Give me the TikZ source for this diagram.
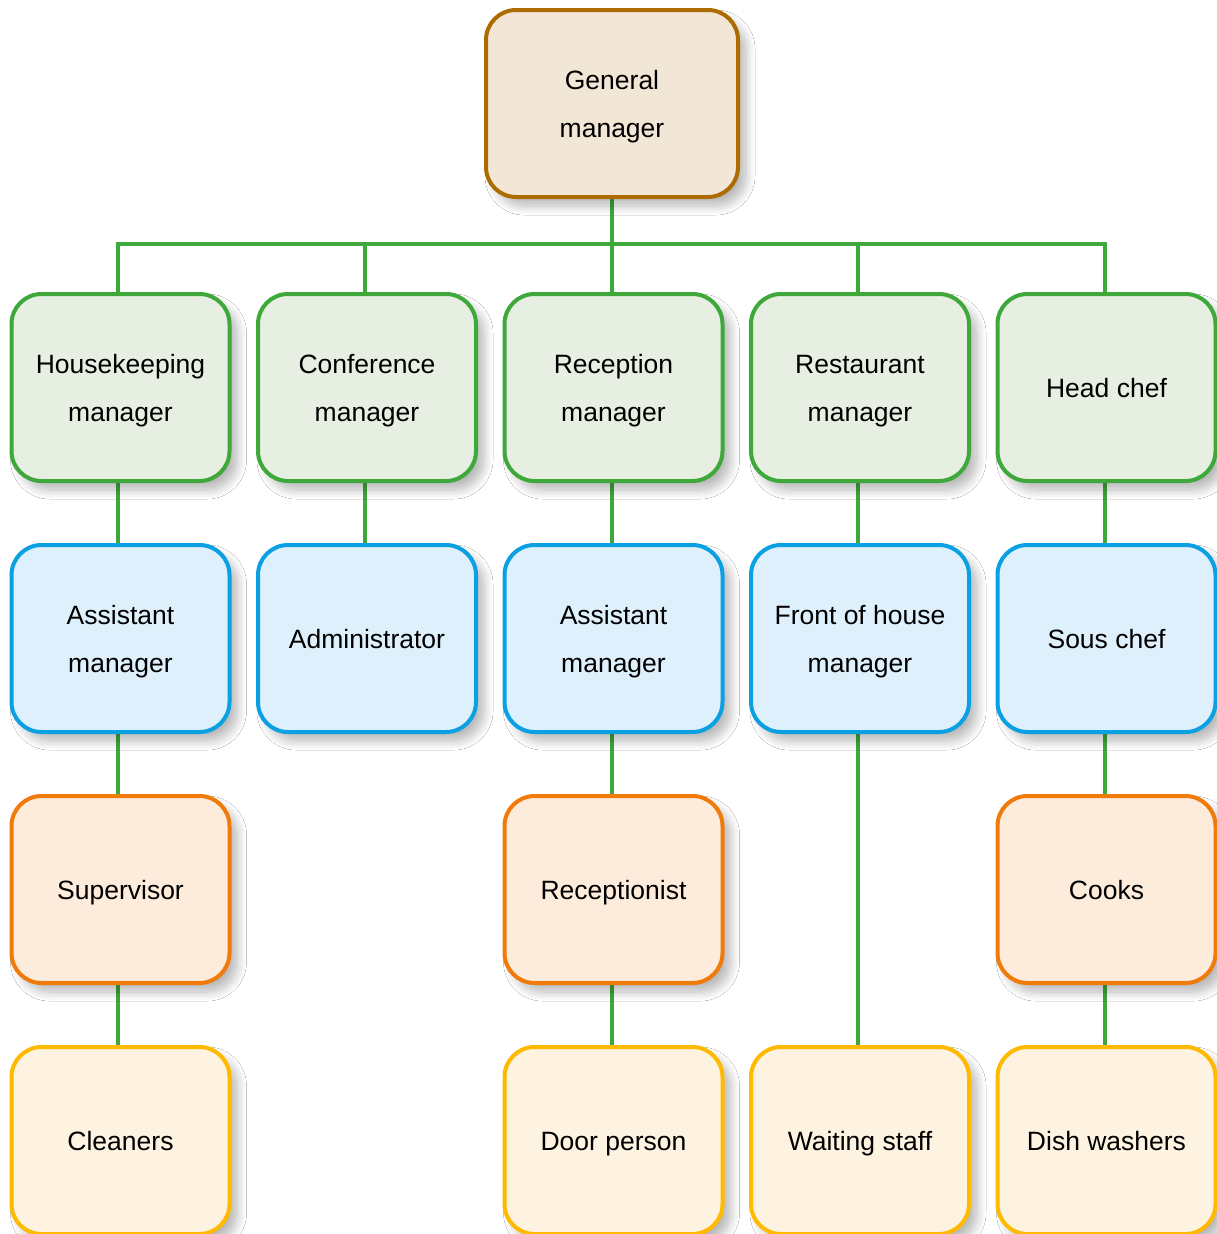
\documentclass[tikz,border=0pt]{standalone}
\usepackage{fontspec}
\setmainfont{Liberation Sans}
\usetikzlibrary{shadows.blur,backgrounds}
\definecolor{gmfill}{HTML}{F2E6D7}
\definecolor{gmdraw}{HTML}{AD6B00}
\definecolor{grfill}{HTML}{E6EFE1}
\definecolor{grdraw}{HTML}{3FA83B}
\definecolor{blfill}{HTML}{DEF0FC}
\definecolor{bldraw}{HTML}{0AA0E2}
\definecolor{orfill}{HTML}{FDECDB}
\definecolor{ordraw}{HTML}{F07A0A}
\definecolor{yefill}{HTML}{FEF3E1}
\definecolor{yedraw}{HTML}{FFBA00}
\newcommand{\boxline}[1]{\strut#1}
\tikzset{
  x=1pt,y=1pt,
  box/.style={rounded corners=30pt, line width=4pt, minimum width=218pt, minimum height=187pt,
    align=center, font=\fontsize{26.5}{48}\selectfont, inner sep=0pt,
    blur shadow={shadow xshift=8pt, shadow yshift=-9pt, shadow blur steps=10, shadow opacity=28, shadow blur radius=9pt}},
  gmbox/.style={box, fill=gmfill, draw=gmdraw, minimum width=252pt},
  grbox/.style={box, fill=grfill, draw=grdraw},
  blbox/.style={box, fill=blfill, draw=bldraw},
  orbox/.style={box, fill=orfill, draw=ordraw},
  yebox/.style={box, fill=yefill, draw=yedraw},
  conn/.style={draw=grdraw, line width=4pt}
}
\begin{document}
\begin{tikzpicture}
\useasboundingbox (0,0) rectangle (1217,-1234);
\clip (0,0) rectangle (1217,-1234);
% top
\node[gmbox] (gm) at (612,-103.5) {\boxline{General}\\\boxline{manager}};
% row 1
\node[grbox] (hk) at (120.5,-387.5) {\boxline{Housekeeping}\\\boxline{manager}};
\node[grbox] (cf) at (367,-387.5) {\boxline{Conference}\\\boxline{manager}};
\node[grbox] (rc) at (613.5,-387.5) {\boxline{Reception}\\\boxline{manager}};
\node[grbox] (rs) at (860,-387.5) {\boxline{Restaurant}\\\boxline{manager}};
\node[grbox] (hc) at (1106.5,-387.5) {\boxline{Head chef}};
% row 2
\node[blbox] (am1) at (120.5,-638.5) {\boxline{Assistant}\\\boxline{manager}};
\node[blbox] (adm) at (367,-638.5) {\boxline{Administrator}};
\node[blbox] (am2) at (613.5,-638.5) {\boxline{Assistant}\\\boxline{manager}};
\node[blbox] (foh) at (860,-638.5) {\boxline{Front of house}\\\boxline{manager}};
\node[blbox] (sc) at (1106.5,-638.5) {\boxline{Sous chef}};
% row 3
\node[orbox] (sup) at (120.5,-889.5) {\boxline{Supervisor}};
\node[orbox] (rcp) at (613.5,-889.5) {\boxline{Receptionist}};
\node[orbox] (ck) at (1106.5,-889.5) {\boxline{Cooks}};
% row 4
\node[yebox] (cl) at (120.5,-1140.5) {\boxline{Cleaners}};
\node[yebox] (dp) at (613.5,-1140.5) {\boxline{Door person}};
\node[yebox] (ws) at (860,-1140.5) {\boxline{Waiting staff}};
\node[yebox] (dw) at (1106.5,-1140.5) {\boxline{Dish washers}};
\coordinate (bar) at (612,-244);
\begin{scope}[on background layer]
\fill[white] (0,0) rectangle (1217,-1234);
\draw[conn] (gm.south) -- (gm.south |- bar);
\foreach \n/\dx in {hk/-2.5,cf/-2,rs/-2,hc/-1.5}{
  \draw[conn] ([xshift=\dx pt]\n.north) |- (bar);
}
\draw[conn] ([xshift=-1.5pt]rc.north) -- ([xshift=-1.5pt]rc.north |- bar);
\draw[conn] ([xshift=-2.5pt]hk.south) -- ([xshift=-2.5pt]am1.north);
\draw[conn] ([xshift=-2.5pt]am1.south) -- ([xshift=-2.5pt]sup.north);
\draw[conn] ([xshift=-2.5pt]sup.south) -- ([xshift=-2.5pt]cl.north);
\draw[conn] ([xshift=-2pt]cf.south) -- ([xshift=-2pt]adm.north);
\draw[conn] ([xshift=-1.5pt]rc.south) -- ([xshift=-1.5pt]am2.north);
\draw[conn] ([xshift=-1.5pt]am2.south) -- ([xshift=-1.5pt]rcp.north);
\draw[conn] ([xshift=-1.5pt]rcp.south) -- ([xshift=-1.5pt]dp.north);
\draw[conn] ([xshift=-2pt]rs.south) -- ([xshift=-2pt]foh.north);
\draw[conn] ([xshift=-2pt]foh.south) -- ([xshift=-2pt]ws.north);
\draw[conn] ([xshift=-1.5pt]hc.south) -- ([xshift=-1.5pt]sc.north);
\draw[conn] ([xshift=-1.5pt]sc.south) -- ([xshift=-1.5pt]ck.north);
\draw[conn] ([xshift=-1.5pt]ck.south) -- ([xshift=-1.5pt]dw.north);
\end{scope}
\end{tikzpicture}
\end{document}
